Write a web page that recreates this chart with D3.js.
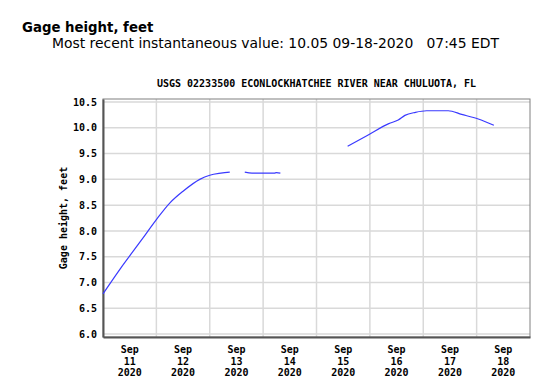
<!DOCTYPE html>
<html><head><meta charset="utf-8">
<script src="https://cdn.jsdelivr.net/npm/d3@7"></script>
<style>
body{margin:0;background:#fff;}
svg{display:block;}
</style></head>
<body>
<svg id="chart" width="550" height="382"></svg>
<script>
// ---- data ----
const pageTitle = "Gage height, feet";
const pageSubtitle = "Most recent instantaneous value: 10.05 09-18-2020\u00a0\u00a0\u00a007:45 EDT";
const chartTitle = "USGS 02233500 ECONLOCKHATCHEE RIVER NEAR CHULUOTA, FL";
const yTitle = "Gage height, feet";
const yTicks = [6.0, 6.5, 7.0, 7.5, 8.0, 8.5, 9.0, 9.5, 10.0, 10.5];
const dayTicks = ["2020-09-11","2020-09-12","2020-09-13","2020-09-14","2020-09-15","2020-09-16","2020-09-17","2020-09-18"];

// segment 1
const seg1Times = ["2020-09-11T00:00","2020-09-11T07:40","2020-09-11T17:15","2020-09-12T00:00","2020-09-12T06:00","2020-09-12T12:00","2020-09-12T19:30","2020-09-13T00:00","2020-09-13T05:00","2020-09-13T09:00"];
const seg1Values = [6.78, 7.26, 7.82, 8.22, 8.54, 8.77, 9.00, 9.08, 9.12, 9.14];
// segment 2
const seg2Times = ["2020-09-13T15:45","2020-09-13T19:00","2020-09-13T22:00","2020-09-14T02:00","2020-09-14T05:00","2020-09-14T06:00","2020-09-14T07:45"];
const seg2Values = [9.14, 9.12, 9.12, 9.12, 9.12, 9.13, 9.12];
// segment 3
const seg3Times = ["2020-09-15T14:00","2020-09-15T23:15","2020-09-16T08:30","2020-09-16T12:45","2020-09-16T15:45","2020-09-16T20:30","2020-09-17T01:30","2020-09-17T11:15","2020-09-17T17:15","2020-09-18T00:45","2020-09-18T07:45"];
const seg3Values = [9.64, 9.86, 10.08, 10.15, 10.24, 10.30, 10.33, 10.33, 10.26, 10.17, 10.05];

// ---- build ----
const parse = d3.timeParse("%Y-%m-%dT%H:%M");
const parseDay = d3.timeParse("%Y-%m-%d");
function seg(times, vals){ return times.map((t,i)=>({t:parse(t), v:vals[i]})); }
const segments = [seg(seg1Times, seg1Values), seg(seg2Times, seg2Values), seg(seg3Times, seg3Values)];

const svg = d3.select("#chart");
const L = 103, R = 530, T = 99, B = 337;

const x = d3.scaleTime().domain([parseDay("2020-09-11"), parseDay("2020-09-19")]).range([L, R]);
const y = d3.scaleLinear().domain([5.943, 10.558]).range([B, T]);

svg.append("text").attr("x", 22).attr("y", 31.5)
  .attr("font-family", "DejaVu Sans, Verdana, sans-serif").attr("font-weight", "bold").attr("font-size", 13.3)
  .attr("fill", "#000").text(pageTitle);
svg.append("text").attr("x", 52).attr("y", 48)
  .attr("font-family", "DejaVu Sans, Verdana, sans-serif").attr("font-size", 13.9)
  .attr("fill", "#000").text(pageSubtitle);

svg.append("text").attr("x", (L+R)/2).attr("y", 87).attr("text-anchor","middle")
  .attr("font-family", "DejaVu Sans Mono, monospace").attr("font-weight", "bold").attr("font-size", 10)
  .attr("fill", "#000").text(chartTitle);

// gridlines
const grid = svg.append("g");
grid.selectAll("line.h").data(yTicks).join("line")
  .attr("x1", L).attr("x2", R).attr("y1", d=>y(d)).attr("y2", d=>y(d))
  .attr("stroke", "#d9d9d9").attr("stroke-width", 1.5);
const dayLines = dayTicks.slice(1).map(parseDay);
grid.selectAll("line.v").data(dayLines).join("line")
  .attr("x1", d=>x(d)).attr("x2", d=>x(d)).attr("y1", T).attr("y2", B)
  .attr("stroke", "#d9d9d9").attr("stroke-width", 1.5);

// frame
svg.append("rect").attr("x", L).attr("y", T).attr("width", R-L).attr("height", B-T)
  .attr("fill", "none").attr("stroke", "#808080").attr("stroke-width", 1);

// y axis
const yAxis = d3.axisLeft(y).tickValues(yTicks).tickFormat(d3.format(".1f")).tickSize(0).tickPadding(6);
const ya = svg.append("g").attr("transform", `translate(${L},0)`).call(yAxis);
ya.select(".domain").attr("stroke", "#555").attr("stroke-width", 2);
ya.selectAll("text").attr("font-family", "DejaVu Sans Mono, monospace").attr("font-weight", "bold").attr("font-size", 10).attr("fill", "#000");

// x axis
const xAxis = d3.axisBottom(x).tickValues([]).tickSize(0);
const xa = svg.append("g").attr("transform", `translate(0,${B})`).call(xAxis);
xa.select(".domain").attr("stroke", "#555").attr("stroke-width", 2);
const noonDates = dayTicks.map(d => d3.timeHour.offset(parseDay(d), 12));
const lab = svg.append("g").attr("font-family", "DejaVu Sans Mono, monospace").attr("font-weight", "bold").attr("font-size", 10).attr("fill", "#000").attr("text-anchor", "middle");
noonDates.forEach(d => {
  const t = lab.append("text").attr("x", x(d)).attr("y", 353);
  t.append("tspan").attr("x", x(d)).attr("dy", 0).text(d3.timeFormat("%b")(d));
  t.append("tspan").attr("x", x(d)).attr("dy", 11.5).text(d3.timeFormat("%d")(d));
  t.append("tspan").attr("x", x(d)).attr("dy", 11.5).text(d3.timeFormat("%Y")(d));
});

// y title
svg.append("text").attr("transform", `translate(67,${(T+B)/2}) rotate(-90)`).attr("text-anchor", "middle")
  .attr("font-family", "DejaVu Sans Mono, monospace").attr("font-weight", "bold").attr("font-size", 10)
  .attr("fill", "#000").text(yTitle);

// lines
const line = d3.line().x(d=>x(d.t)).y(d=>y(d.v)).curve(d3.curveMonotoneX);
svg.append("g").selectAll("path").data(segments).join("path")
  .attr("d", line).attr("fill", "none").attr("stroke", "#3a3aff").attr("stroke-width", 1.2);
</script>
</body></html>
